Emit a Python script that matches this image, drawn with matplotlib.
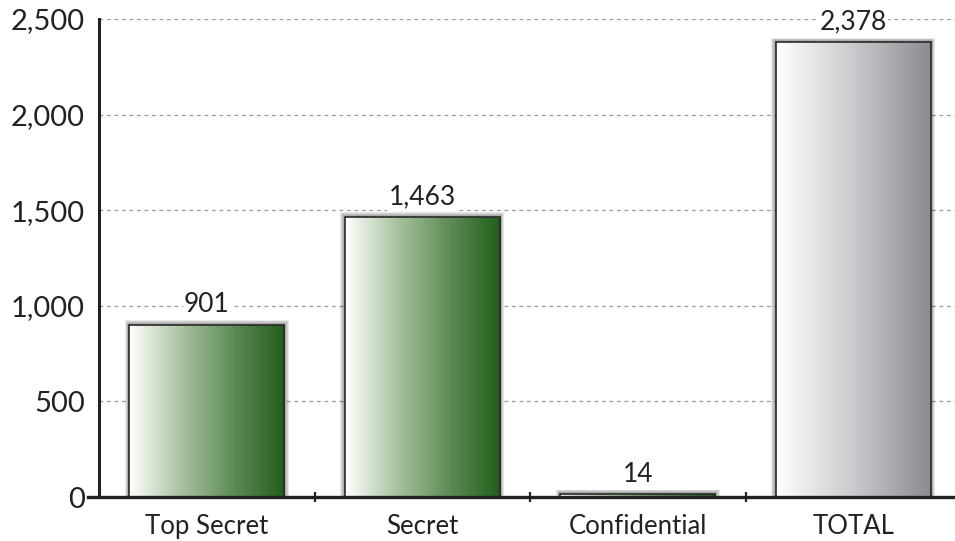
import numpy as np
import matplotlib
matplotlib.use("Agg")
import matplotlib.pyplot as plt
from matplotlib.patches import Rectangle
from matplotlib.colors import LinearSegmentedColormap
from matplotlib.ticker import FuncFormatter

categories = ["Top Secret", "Secret", "Confidential", "TOTAL"]
values = [901, 1463, 14, 2378]
yticks = [0, 500, 1000, 1500, 2000, 2500]

plt.rcParams['font.family'] = ['Lato', 'DejaVu Sans']

fig = plt.figure(figsize=(9.55, 5.41), dpi=100)
W, H = 955, 541
ax = fig.add_axes([99 / W, 44 / H, (955 - 99) / W, (497 - 19) / H])
ax.set_xlim(-0.5, 3.5 - 6 / 215.5)
ax.set_ylim(0, 2500)

green = LinearSegmentedColormap.from_list("g", ["#ffffff", "#a9c2a0", "#5f8c57", "#225e1b"])
grey = LinearSegmentedColormap.from_list("k", ["#ffffff", "#c9cacd", "#8a8b91"])
grad = np.linspace(0, 1, 256).reshape(1, -1)

bw = 0.72
for i, v in enumerate(values):
    cmap = grey if categories[i] == "TOTAL" else green
    x0 = i - bw / 2
    # soft shadow
    for k in range(5, 0, -1):
        dx = k * 0.004
        dy = k * 5
        sh = Rectangle((x0 - dx, -dy), bw + 2 * dx, v + 2 * dy,
                       facecolor="black", edgecolor="none", alpha=0.09, zorder=2)
        ax.add_patch(sh)
    im = ax.imshow(grad, cmap=cmap, aspect="auto",
                   extent=[x0, x0 + bw, 0, v], zorder=3, interpolation="bicubic")
    rect = Rectangle((x0, 0), bw, v, facecolor="none", edgecolor="#2a2a2a", lw=1.2, zorder=4)
    ax.add_patch(rect)
    im.set_clip_path(rect)
    ax.text(i, v + 40, f"{v:,}", ha="center", va="bottom", fontsize=19, color="#222222",
            zorder=5, bbox=dict(boxstyle="square,pad=0.05", fc="white", ec="none"))

ax.set_xlim(-0.5, 3.5 - 6 / 215.5)
ax.set_ylim(0, 2500)

ax.set_yticks(yticks)
ax.yaxis.set_major_formatter(FuncFormatter(lambda v, p: f"{int(v):,}"))
ax.tick_params(axis="y", length=0, pad=10, labelsize=21, labelcolor="#222222")
ax.set_xticks(range(len(categories)))
ax.set_xticklabels(categories)
ax.tick_params(axis="x", length=0, pad=12, labelsize=18.5, labelcolor="#222222")
ax.set_xticks([0.5, 1.5, 2.5], minor=True)
ax.tick_params(axis="x", which="minor", length=7, width=1.6, direction="inout", color="#222222")

for y in yticks[1:]:
    ax.axhline(y, color="#999999", lw=0.9, ls=(0, (3, 3)), zorder=1)

for s in ["top", "right", "bottom"]:
    ax.spines[s].set_visible(False)
ax.spines["left"].set_linewidth(2.2)
ax.spines["left"].set_color("#222222")
ax.axhline(0, xmin=-11 / 856, xmax=1, color="#222222", lw=2.4, clip_on=False, zorder=6)

fig.savefig("out.png", dpi=100)
